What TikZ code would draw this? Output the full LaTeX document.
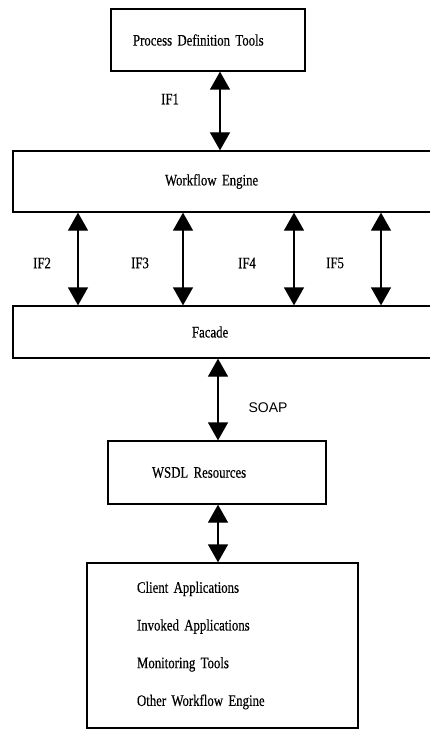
\documentclass[tikz,border=0pt]{standalone}
\usepackage{fontspec}
\setmainfont{Liberation Serif}
\setsansfont{Liberation Sans}
\newfontfamily\figfont{Liberation Serif}[FakeStretch=0.8, FakeBold=0.4, WordSpace=0.45]
\usetikzlibrary{arrows.meta}
\tikzset{>={Triangle[width=20pt,length=18pt]}}
\tikzset{
  box/.style={draw, line width=1.3pt, rectangle, inner ysep=0pt,
    font=\figfont\fontsize{16}{19.2}\selectfont},
  link/.style={<->, line width=1.3pt},
  tag/.style={font=\figfont\fontsize{16}{19.2}\selectfont}
}

\begin{document}
\begin{tikzpicture}[x=1pt, y=-1pt]
  \useasboundingbox (0,0) rectangle (429,730);
  % boxes
  \node[box, text width=150pt, inner xsep=22pt, minimum height=62pt] (pdt) at (208,40) {Process Definition Tools};
  \node[box, text width=126pt, inner xsep=152pt, minimum height=61pt] (engine) at (228,181.5) {Workflow Engine};
  \node[box, text width=72pt, inner xsep=179pt, minimum height=52pt] (facade) at (228,332) {Facade};
  \node[box, text width=130pt, inner xsep=44pt, minimum height=63pt] (wsdl) at (217,472.5) {WSDL Resources};
  \node[box, text width=171pt, inner xsep=50pt, minimum height=165pt] (clients) at (222.5,645.5)
    {Client Applications\\[18.5pt] Invoked Applications\\[18.5pt] Monitoring Tools\\[18.5pt] Other Workflow Engine};
  % interfaces
  \coordinate (a1) at (220,0);
  \draw[link] (pdt.south -| a1) -- (engine.north -| a1);
  \node[tag] (if1) at (170,99) {IF1};
  \foreach \x/\lab/\lx in {78/IF2/42, 183/IF3/140, 294/IF4/247, 381/IF5/335}{
    \coordinate (a\lab) at (\x,0);
    \draw[link] (engine.south -| a\lab) -- (facade.north -| a\lab);
    \node[tag] (lab\lab) at (\lx,263) {\lab};
  }
  \coordinate (a6) at (218,0);
  \draw[link] (facade.south -| a6) -- (wsdl.north -| a6);
  \node[tag, font=\sffamily\fontsize{14}{16.8}\selectfont] (soap) at (268,408) {SOAP};
  \draw[link] (wsdl.south -| a6) -- (clients.north -| a6);
\end{tikzpicture}
\end{document}
